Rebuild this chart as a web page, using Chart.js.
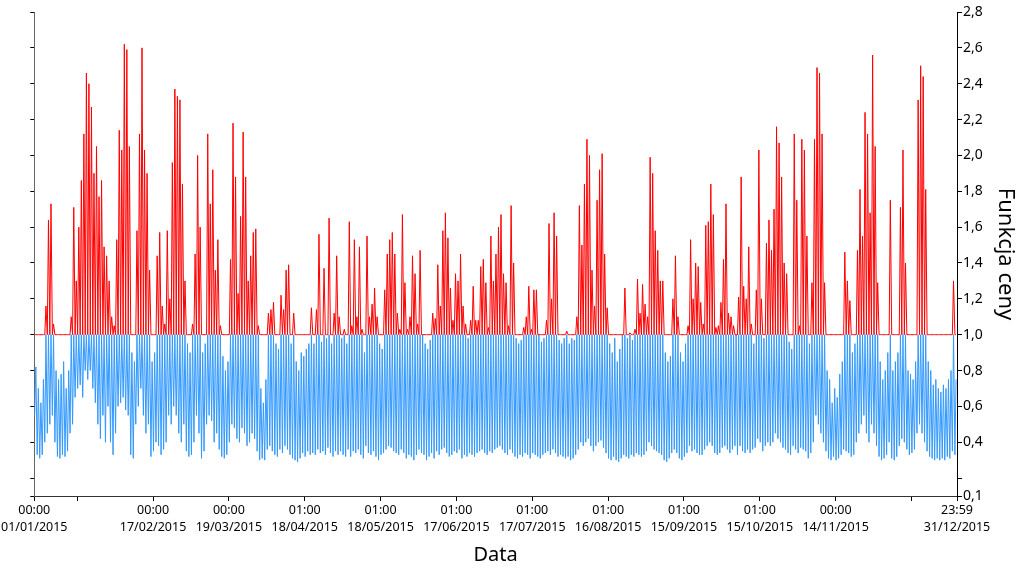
<!DOCTYPE html>
<html>
<head>
<meta charset="utf-8">
<script src="https://cdn.jsdelivr.net/npm/chart.js@4.4.1/dist/chart.umd.min.js"></script>
<style>
html, body { margin: 0; padding: 0; background: #fff; }
</style>
</head>
<body>
<canvas id="graficoCeny" width="1024" height="584"></canvas>
<script>
// dzienne maksimum funkcji ceny (odczyt z wykresu), 365 dni
const dayMax = [
    0.82,0.70,0.62,0.75,1.16,1.64,1.73,1.06,0.80,0.75,
    0.78,0.85,0.70,0.80,1.10,1.71,1.30,1.60,1.86,2.12,
    2.46,2.40,2.27,1.90,2.05,1.77,1.86,1.49,1.44,1.30,
    1.10,1.05,1.53,2.14,2.03,2.62,2.59,2.05,0.90,0.85,
    1.58,2.12,2.60,2.03,1.90,1.36,0.85,0.90,1.44,1.57,
    1.16,1.06,1.58,1.20,1.96,2.37,2.33,2.31,1.84,1.30,
    0.95,0.90,1.06,1.45,2.00,1.60,0.90,0.95,2.12,1.73,
    1.92,1.36,1.53,1.05,0.88,0.80,0.85,1.42,2.18,1.88,
    1.23,1.66,2.13,1.88,1.30,1.44,1.57,1.59,1.05,0.70,
    0.62,0.75,1.12,1.14,1.18,0.95,0.92,1.22,1.14,1.36,
    1.39,0.95,1.12,0.85,0.80,0.90,0.88,0.92,0.95,1.15,
    0.95,1.14,1.56,0.96,1.37,0.98,1.65,0.95,1.12,1.44,
    1.10,0.98,1.03,0.95,1.63,1.05,1.53,1.10,1.49,1.03,
    0.90,1.55,1.10,1.17,1.26,1.10,0.95,0.92,1.25,1.45,
    1.53,1.57,1.45,1.12,1.03,1.67,1.29,1.03,1.10,1.44,
    1.34,1.06,1.47,1.00,0.95,0.92,0.97,1.12,1.09,1.39,
    1.16,1.58,1.68,1.54,1.26,1.08,1.34,1.30,1.45,1.16,
    1.06,0.98,1.08,1.27,1.08,1.08,1.38,1.42,1.29,1.04,
    1.55,1.30,1.45,1.60,1.67,1.34,1.29,1.05,1.72,1.40,
    0.98,0.95,0.97,1.04,1.10,1.27,1.03,1.25,1.25,1.00,
    0.96,0.98,1.08,1.62,1.20,1.68,1.55,0.97,0.95,0.98,
    1.02,0.95,0.98,0.97,1.10,1.72,1.50,1.84,2.09,2.00,
    1.36,1.16,1.75,1.92,2.01,1.45,1.15,0.95,0.90,0.98,
    0.85,0.92,1.00,1.26,0.98,1.01,0.97,1.03,1.31,1.12,
    1.28,1.17,1.10,1.99,1.90,1.58,1.47,1.30,1.30,0.90,
    0.85,0.88,1.20,1.44,1.10,0.90,0.85,0.95,1.05,1.53,
    1.20,1.40,1.38,1.18,1.06,1.61,1.63,1.84,1.67,1.04,
    1.05,1.18,1.42,1.73,1.12,1.10,1.05,1.00,1.21,1.88,
    1.27,1.20,1.49,1.06,0.95,1.25,2.03,1.20,0.98,1.51,
    1.64,1.47,1.70,2.16,2.07,1.88,1.40,1.34,0.96,0.92,
    2.12,1.75,1.05,2.09,2.03,1.55,0.95,1.29,2.09,2.49,
    2.46,2.12,1.29,0.80,0.75,0.62,0.70,0.65,0.78,0.85,
    1.46,1.30,1.19,0.90,0.95,1.47,1.81,1.55,2.24,2.12,
    1.68,2.56,2.05,1.29,0.85,0.75,0.80,0.90,1.75,0.80,
    0.85,0.90,1.71,2.03,1.40,0.80,0.78,0.75,0.85,2.31,
    2.50,2.44,1.81,0.85,0.80,0.72,0.75,0.70,0.68,0.72,
    0.70,0.75,0.80,1.30,0.75
];

// dzienne minimum funkcji ceny
const dayMin = [
    0.55,0.33,0.31,0.33,0.40,0.45,0.50,0.55,0.40,0.32,
    0.31,0.33,0.32,0.35,0.45,0.50,0.65,0.70,0.72,0.65,
    0.80,0.75,0.80,0.70,0.62,0.50,0.42,0.55,0.40,0.60,
    0.40,0.33,0.45,0.60,0.62,0.65,0.58,0.55,0.33,0.31,
    0.50,0.60,0.70,0.55,0.45,0.50,0.32,0.35,0.40,0.38,
    0.33,0.36,0.40,0.55,0.50,0.60,0.55,0.45,0.40,0.50,
    0.35,0.32,0.33,0.40,0.55,0.45,0.31,0.35,0.50,0.55,
    0.52,0.40,0.45,0.36,0.32,0.31,0.33,0.40,0.50,0.48,
    0.42,0.40,0.48,0.45,0.38,0.40,0.45,0.42,0.35,0.30,
    0.31,0.30,0.36,0.38,0.35,0.33,0.32,0.36,0.34,0.38,
    0.36,0.33,0.31,0.30,0.29,0.31,0.34,0.32,0.35,0.33,
    0.34,0.33,0.36,0.34,0.35,0.33,0.37,0.34,0.32,0.35,
    0.33,0.35,0.33,0.32,0.36,0.32,0.35,0.34,0.36,0.33,
    0.31,0.38,0.34,0.33,0.35,0.32,0.30,0.33,0.34,0.36,
    0.38,0.37,0.35,0.34,0.33,0.36,0.34,0.31,0.33,0.32,
    0.30,0.33,0.36,0.34,0.33,0.30,0.32,0.34,0.31,0.35,
    0.33,0.36,0.37,0.34,0.32,0.33,0.35,0.34,0.36,0.31,
    0.33,0.32,0.34,0.33,0.32,0.34,0.35,0.36,0.34,0.33,
    0.35,0.34,0.36,0.37,0.38,0.36,0.34,0.33,0.36,0.34,
    0.32,0.31,0.33,0.32,0.34,0.33,0.31,0.34,0.33,0.32,
    0.31,0.33,0.34,0.35,0.33,0.36,0.34,0.32,0.33,0.32,
    0.31,0.32,0.30,0.31,0.33,0.36,0.40,0.38,0.40,0.42,
    0.38,0.35,0.38,0.40,0.41,0.37,0.34,0.31,0.30,0.32,
    0.30,0.29,0.31,0.33,0.32,0.31,0.33,0.32,0.34,0.33,
    0.32,0.33,0.35,0.40,0.38,0.36,0.35,0.34,0.33,0.30,
    0.29,0.31,0.34,0.36,0.34,0.31,0.30,0.32,0.34,0.38,
    0.35,0.36,0.34,0.33,0.33,0.36,0.38,0.40,0.38,0.34,
    0.33,0.34,0.37,0.38,0.36,0.34,0.36,0.38,0.33,0.38,
    0.35,0.34,0.36,0.34,0.36,0.37,0.42,0.40,0.35,0.38,
    0.40,0.38,0.40,0.45,0.42,0.40,0.37,0.36,0.34,0.33,
    0.38,0.36,0.34,0.37,0.36,0.35,0.31,0.34,0.40,0.55,
    0.50,0.45,0.40,0.35,0.31,0.30,0.32,0.30,0.31,0.33,
    0.36,0.35,0.34,0.32,0.33,0.40,0.45,0.50,0.55,0.45,
    0.40,0.50,0.45,0.38,0.32,0.30,0.31,0.33,0.40,0.31,
    0.30,0.32,0.38,0.42,0.40,0.36,0.33,0.34,0.36,0.45,
    0.50,0.45,0.40,0.35,0.32,0.31,0.30,0.31,0.30,0.31,
    0.30,0.32,0.31,0.35,0.33
];

// os X: dni roku, na ktorych stoja znaczniki
const tickDays = [0, 17, 47, 77, 107, 137, 167, 197, 227, 257, 287, 317, 347, 365];
const tickTimes = ['00:00', '', '00:00', '00:00', '01:00', '01:00', '01:00', '01:00',
                   '01:00', '01:00', '01:00', '00:00', '', '23:59'];
const tickDates = ['01/01/2015', '', '17/02/2015', '19/03/2015', '18/04/2015', '18/05/2015',
                   '17/06/2015', '17/07/2015', '16/08/2015', '15/09/2015', '15/10/2015',
                   '14/11/2015', '', '31/12/2015'];

const yTicks = [0.1, 0.2, 0.4, 0.6, 0.8, 1.0, 1.2, 1.4, 1.6, 1.8, 2.0, 2.2, 2.4, 2.6, 2.8];

// szereg: minimum w nocy, maksimum w dzien
const series = [];
dayMin.forEach(function(lo, d) {
    series.push({ x: d * 24 + 4, y: lo });
    series.push({ x: d * 24 + 15, y: dayMax[d] });
});

const ponad = series.map(p => ({ x: p.x, y: Math.max(p.y, 1) }));
const ponizej = series.map(p => ({ x: p.x, y: Math.min(p.y, 1) }));

Chart.defaults.font.family = '"Noto Sans", "DejaVu Sans", sans-serif';
Chart.defaults.color = '#000';

const fmt = v => v.toFixed(1).replace('.', ',');

const ctx = document.getElementById('graficoCeny');

const chart = new Chart(ctx, {
    type: 'line',
    data: {
        datasets: [
            {
                label: 'powyzej 1',
                data: ponad,
                borderColor: '#ff0000',
                borderWidth: 1,
                pointRadius: 0,
                tension: 0,
                xAxisID: 'x',
                yAxisID: 'y'
            },
            {
                label: 'ponizej 1',
                data: ponizej,
                borderColor: '#3399ff',
                borderWidth: 1,
                pointRadius: 0,
                tension: 0,
                xAxisID: 'x',
                yAxisID: 'y'
            }
        ]
    },
    options: {
        responsive: false,
        animation: false,
        layout: {
            padding: { top: 12, left: 0, right: 0, bottom: 0 }
        },
        plugins: {
            legend: { display: false },
            tooltip: { enabled: false }
        },
        scales: {
            x: {
                type: 'linear',
                position: 'bottom',
                min: 0,
                max: 8760,
                afterBuildTicks: function(axis) {
                    axis.ticks = tickDays.map(d => ({ value: d * 24 }));
                },
                afterFit: function(axis) {
                    axis.height = 88;
                },
                grid: {
                    drawOnChartArea: false,
                    drawTicks: true,
                    tickLength: 5,
                    color: '#000'
                },
                border: { display: true, color: '#333' },
                ticks: {
                    autoSkip: false,
                    maxRotation: 0,
                    padding: 1,
                    font: { size: 12.5, lineHeight: 1.35 },
                    callback: function(value, index) {
                        if (!tickTimes[index]) return '';
                        return [tickTimes[index], tickDates[index]];
                    }
                },
                title: {
                    display: true,
                    text: 'Data',
                    font: { size: 20 },
                    padding: { top: 0, bottom: 17 }
                }
            },
            yl: {
                type: 'linear',
                position: 'left',
                min: 0.1,
                max: 2.8,
                afterBuildTicks: function(axis) {
                    axis.ticks = yTicks.map(v => ({ value: v }));
                },
                afterFit: function(axis) {
                    axis.width = 33;
                },
                grid: {
                    drawOnChartArea: false,
                    tickLength: 4,
                    color: '#000'
                },
                border: { display: true, color: '#666' },
                ticks: { display: false }
            },
            y: {
                type: 'linear',
                position: 'right',
                min: 0.1,
                max: 2.8,
                afterBuildTicks: function(axis) {
                    axis.ticks = yTicks.map(v => ({ value: v }));
                },
                afterFit: function(axis) {
                    axis.width = 67;
                },
                grid: {
                    drawOnChartArea: false,
                    tickLength: 5,
                    color: '#000'
                },
                border: { display: true, color: '#000' },
                ticks: {
                    padding: 1,
                    font: { size: 14 },
                    callback: function(value) {
                        if (Math.abs(value - 0.2) < 1e-9) return '';
                        return fmt(value);
                    }
                },
                title: {
                    display: true,
                    text: 'Funkcja ceny',
                    font: { size: 22 },
                    padding: { top: 6, bottom: 0 }
                }
            }
        }
    }
});
</script>
</body>
</html>
